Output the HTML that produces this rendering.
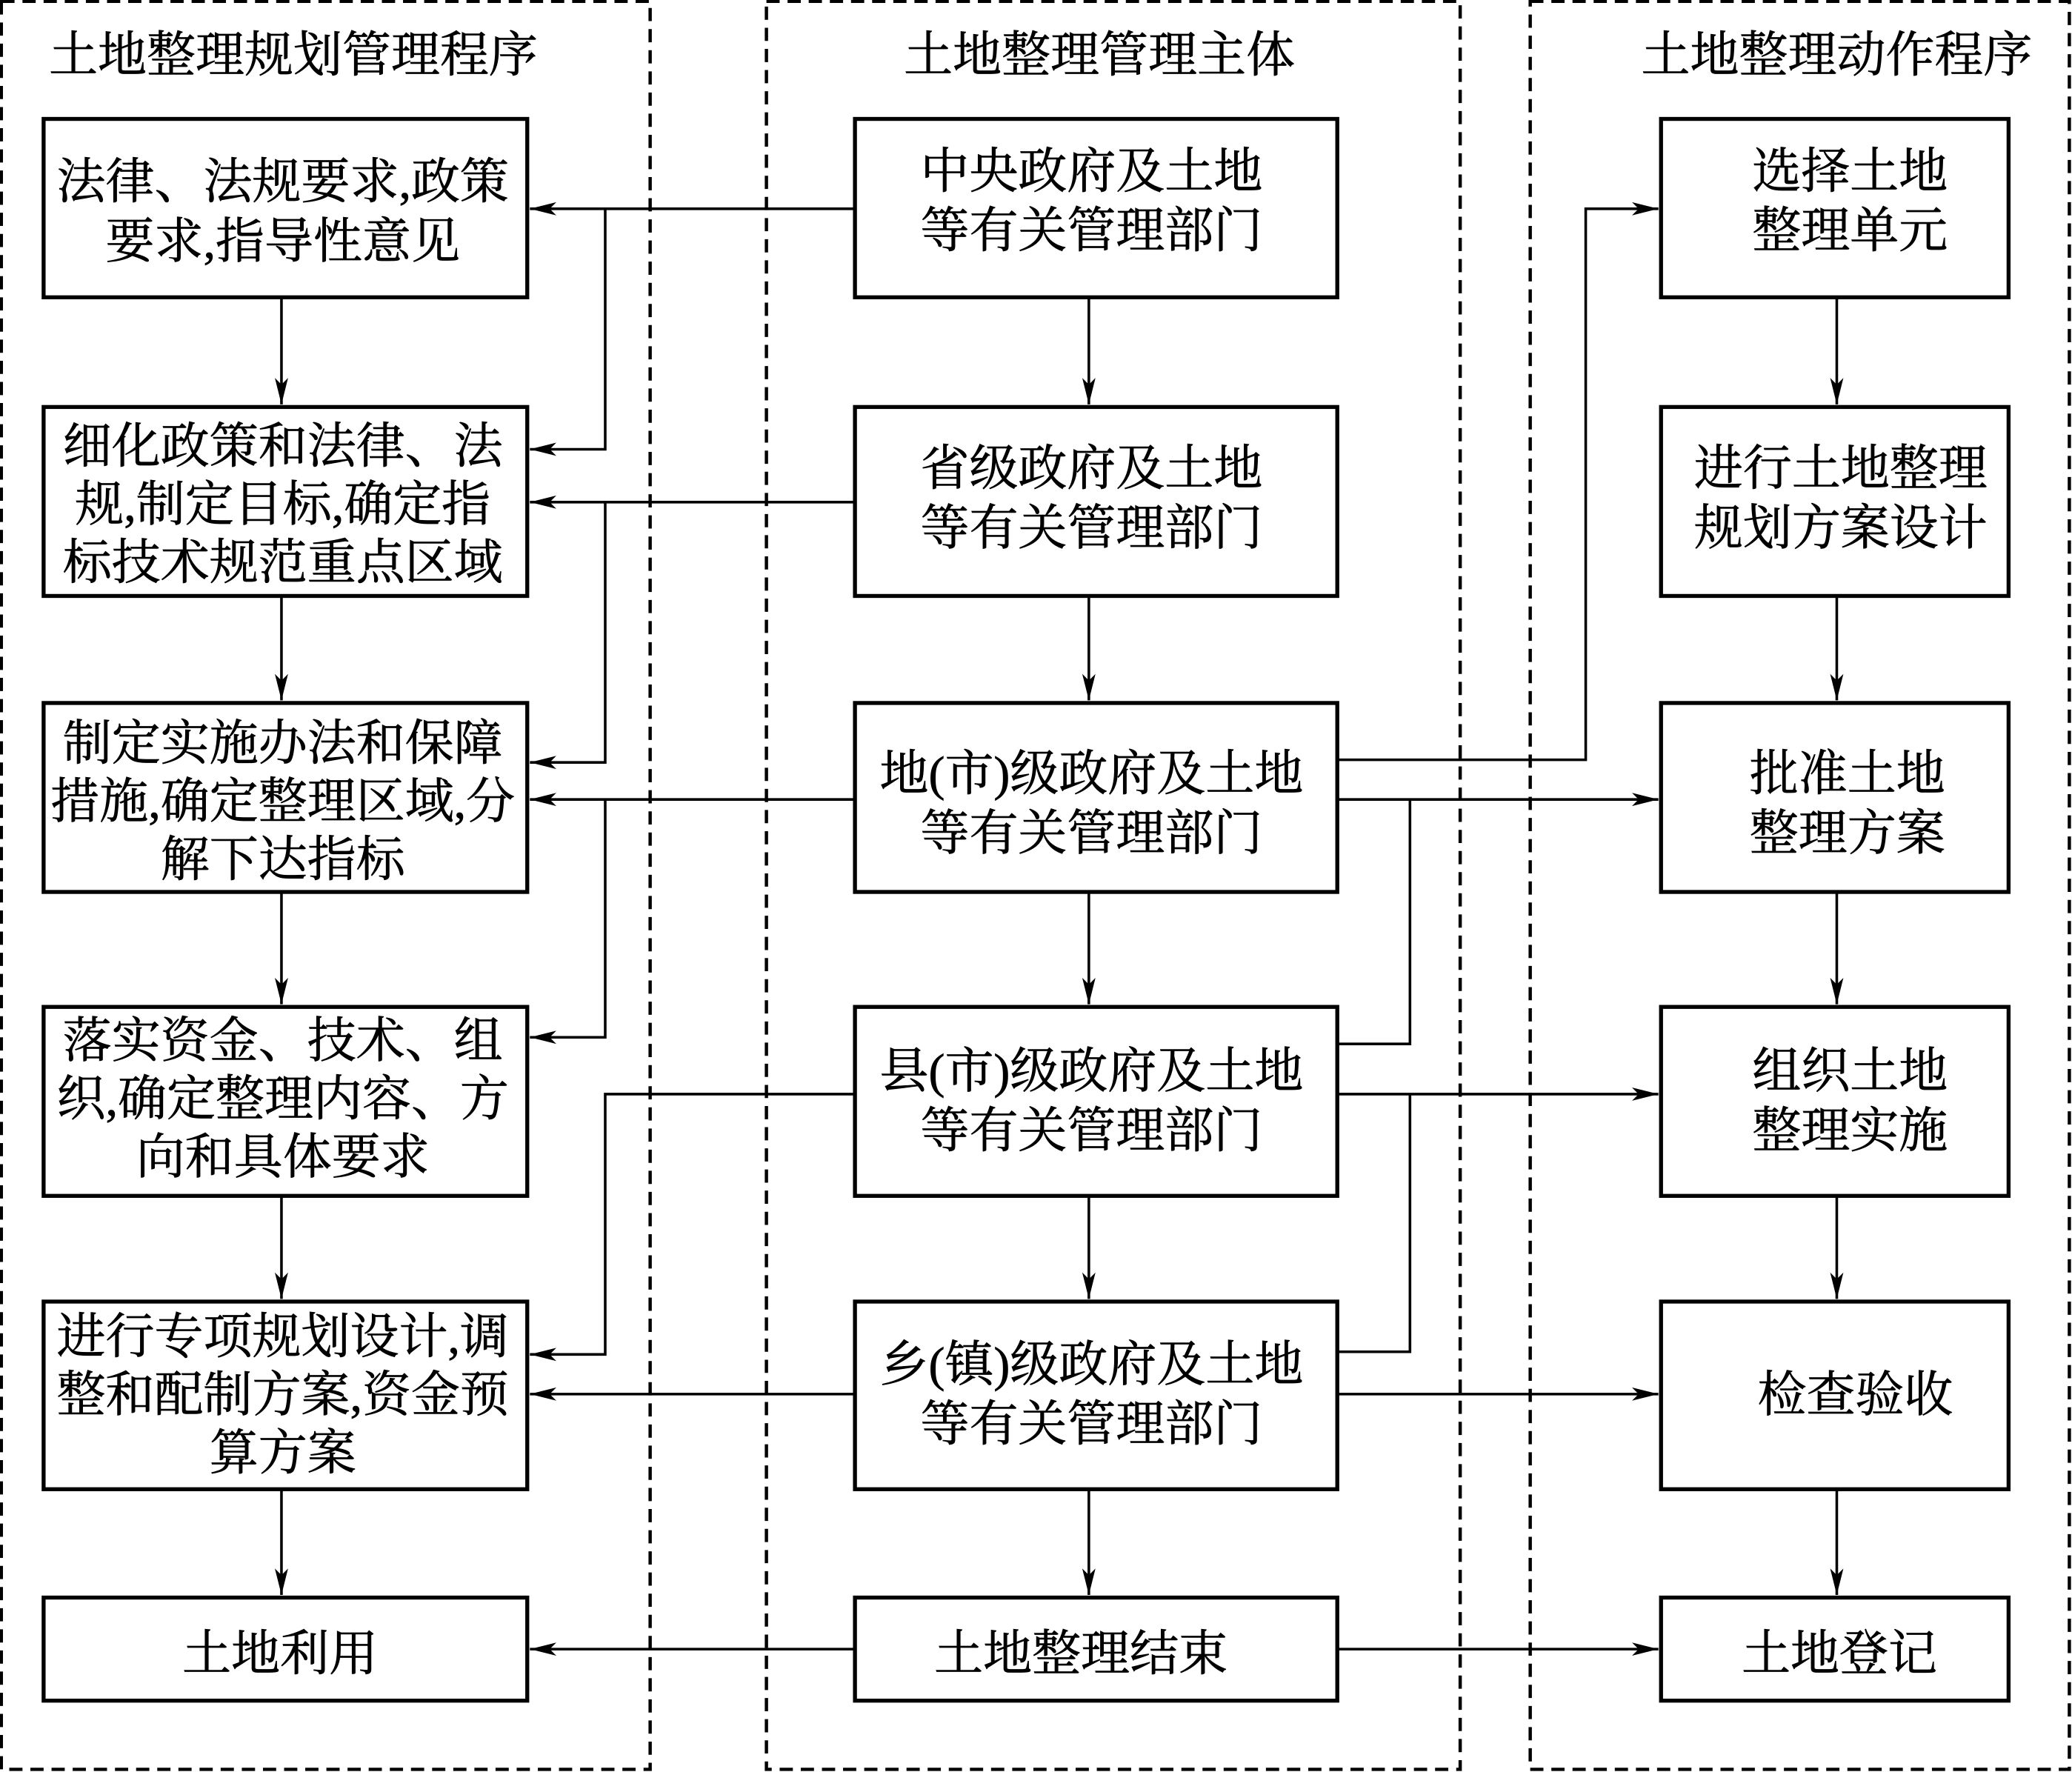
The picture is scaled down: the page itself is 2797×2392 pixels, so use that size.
<!DOCTYPE html>
<html><head><meta charset="utf-8"><style>
html,body{margin:0;padding:0;background:#fff;}
svg{display:block;}
text{font-family:"Liberation Serif","Noto Serif CJK SC",serif;font-size:37px;fill:#000;stroke:#000;stroke-width:0.4;text-anchor:middle;}
</style></head><body>
<svg width="2797" height="2392" viewBox="0 0 1568 1341" preserveAspectRatio="none" xmlns="http://www.w3.org/2000/svg">
<defs><marker id="a" viewBox="0 0 20 10" refX="20" refY="5" markerWidth="20" markerHeight="10" markerUnits="userSpaceOnUse" orient="auto"><path d="M0,0 L20,5 L0,10 L5,5 Z" fill="#000"/></marker></defs>
<g fill="none" stroke="#000" stroke-width="2.5" stroke-dasharray="10,6">
<rect x="1" y="1" width="491" height="1338"/>
<rect x="580" y="1" width="525" height="1338"/>
<rect x="1158" y="1" width="408" height="1338"/>
</g>
<text x="222" y="54">土地整理规划管理程序</text>
<text x="832" y="54">土地整理管理主体</text>
<text x="1390" y="54">土地整理动作程序</text>
<g fill="none" stroke="#000" stroke-width="3">
<rect x="33" y="90" width="366" height="135"/><rect x="33" y="308" width="366" height="143"/><rect x="33" y="532" width="366" height="143"/><rect x="33" y="762" width="366" height="143"/><rect x="33" y="985" width="366" height="142"/><rect x="33" y="1209" width="366" height="78"/>
<rect x="647" y="90" width="365" height="135"/><rect x="647" y="308" width="365" height="143"/><rect x="647" y="532" width="365" height="143"/><rect x="647" y="762" width="365" height="143"/><rect x="647" y="985" width="365" height="142"/><rect x="647" y="1209" width="365" height="78"/>
<rect x="1257" y="90" width="263" height="135"/><rect x="1257" y="308" width="263" height="143"/><rect x="1257" y="532" width="263" height="143"/><rect x="1257" y="762" width="263" height="143"/><rect x="1257" y="985" width="263" height="142"/><rect x="1257" y="1209" width="263" height="78"/>
</g>
<g fill="none" stroke="#000" stroke-width="2" marker-end="url(#a)">
<path d="M213 225V306"/><path d="M213 451V530"/><path d="M213 675V760"/><path d="M213 905V983"/><path d="M213 1127V1207"/>
<path d="M824 225V306"/><path d="M824 451V530"/><path d="M824 675V760"/><path d="M824 905V983"/><path d="M824 1127V1207"/>
<path d="M1390 225V306"/><path d="M1390 451V530"/><path d="M1390 675V760"/><path d="M1390 905V983"/><path d="M1390 1127V1207"/>
<path d="M647 158H401"/><path d="M458 158V340H401"/>
<path d="M647 380H401"/><path d="M458 380V577H401"/>
<path d="M647 605H401"/><path d="M458 605V785H401"/>
<path d="M647 828H458V1025H401"/>
<path d="M647 1055H401"/><path d="M647 1248H401"/>
<path d="M1012 575H1200V158H1255"/>
<path d="M1012 605H1255"/><path d="M1012 828H1255"/><path d="M1012 1055H1255"/><path d="M1012 1248H1255"/>
</g>
<g fill="none" stroke="#000" stroke-width="2">
<path d="M1067 605V790H1012"/><path d="M1067 828V1023H1012"/>
</g>
<text x="214" y="150">法律、法规要求,政策</text><text x="214" y="195">要求,指导性意见</text>
<text x="214" y="350">细化政策和法律、法</text><text x="214" y="394">规,制定目标,确定指</text><text x="214" y="438">标技术规范重点区域</text>
<text x="214" y="575">制定实施办法和保障</text><text x="214" y="619">措施,确定整理区域,分</text><text x="214" y="663">解下达指标</text>
<text x="214" y="800">落实资金、技术、组</text><text x="214" y="844">织,确定整理内容、方</text><text x="214" y="888">向和具体要求</text>
<text x="214" y="1024">进行专项规划设计,调</text><text x="214" y="1068">整和配制方案,资金预</text><text x="214" y="1112">算方案</text>
<text x="212" y="1264">土地利用</text>
<text x="826" y="142">中央政府及土地</text><text x="826" y="187">等有关管理部门</text>
<text x="826" y="367">省级政府及土地</text><text x="826" y="412">等有关管理部门</text>
<text x="826" y="598">地(市)级政府及土地</text><text x="826" y="643">等有关管理部门</text>
<text x="826" y="823">县(市)级政府及土地</text><text x="826" y="868">等有关管理部门</text>
<text x="826" y="1045">乡(镇)级政府及土地</text><text x="826" y="1090">等有关管理部门</text>
<text x="818" y="1264">土地整理结束</text>
<text x="1400" y="142">选择土地</text><text x="1400" y="187">整理单元</text>
<text x="1393" y="367">进行土地整理</text><text x="1393" y="412">规划方案设计</text>
<text x="1398" y="598">批准土地</text><text x="1398" y="643">整理方案</text>
<text x="1400" y="823">组织土地</text><text x="1400" y="868">整理实施</text>
<text x="1404" y="1068">检查验收</text>
<text x="1392" y="1264">土地登记</text>
</svg>
</body></html>
